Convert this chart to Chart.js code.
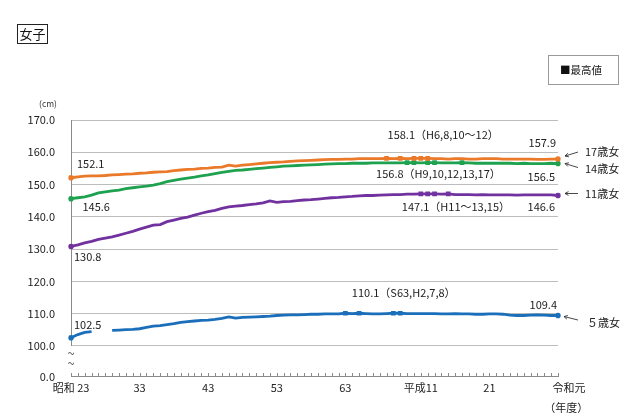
<!DOCTYPE html>
<html><head><meta charset="utf-8">
<script src="https://cdn.jsdelivr.net/npm/chart.js@4"></script>
<style>html,body{margin:0;padding:0;background:#fff;}canvas{display:block;}</style>
</head><body>
<canvas id="c" width="640" height="420" style="width:640px;height:420px"></canvas>
<script>
// ---- data ----
const years = [1948,1949,1950,1951,1952,1953,1954,1955,1956,1957,1958,1959,1960,1961,1962,1963,1964,1965,1966,1967,1968,1969,
1970,1971,1972,1973,1974,1975,1976,1977,1978,1979,1980,1981,1982,1983,1984,1985,1986,1987,1988,1989,1990,1991,1992,1993,1994,1995,
1996,1997,1998,1999,2000,2001,2002,2003,2004,2005,2006,2007,2008,2009,2010,2011,2012,2013,2014,2015,2016,2017,2018,2019];
const tickYears = [1948,1958,1968,1978,1988,1999,2009,2019];
const tickTexts = ['昭和 23','33','43','53','63','平成11','21','令和元'];
const age17 = [152.1,152.4,152.6,152.7,152.7,152.8,153.0,153.1,153.2,153.3,153.5,153.6,153.8,153.9,154.0,154.3,154.5,154.7,154.8,155.0,155.1,155.3,
155.4,156.0,155.7,156.0,156.2,156.4,156.6,156.8,156.9,157.0,157.2,157.3,157.4,157.5,157.6,157.7,157.8,157.8,157.9,157.9,158.0,158.0,158.0,158.0,158.1,158.0,
158.1,158.0,158.1,158.1,158.1,158.0,158.0,157.9,158.0,158.0,157.9,157.9,158.0,158.0,158.0,157.9,157.9,157.9,157.9,157.9,157.8,157.8,157.9,157.9];
const age14 = [145.6,145.9,146.2,146.7,147.4,147.7,148.0,148.3,148.7,149.0,149.3,149.5,149.8,150.3,150.9,151.3,151.7,152.0,152.3,152.7,153.0,153.4,
153.8,154.1,154.4,154.5,154.7,154.9,155.1,155.3,155.5,155.7,155.8,155.9,156.0,156.1,156.2,156.3,156.4,156.5,156.5,156.6,156.6,156.6,156.7,156.7,156.7,156.7,
156.7,156.8,156.8,156.7,156.8,156.8,156.7,156.7,156.7,156.8,156.7,156.6,156.6,156.6,156.6,156.6,156.6,156.5,156.6,156.5,156.5,156.5,156.6,156.5];
const age11 = [130.8,131.3,131.9,132.4,133.0,133.4,133.8,134.3,134.9,135.5,136.2,136.8,137.4,137.6,138.5,139.0,139.5,139.9,140.5,141.1,141.6,142.0,
142.6,143.1,143.3,143.5,143.8,144.0,144.3,144.9,144.5,144.7,144.8,145.0,145.2,145.3,145.5,145.7,145.9,146.0,146.2,146.3,146.5,146.6,146.6,146.7,146.8,146.9,
146.9,147.0,147.0,147.1,147.1,147.1,147.0,147.1,146.9,146.9,146.9,146.8,146.9,146.8,146.8,146.8,146.8,146.7,146.8,146.8,146.8,146.8,146.8,146.6];
const age5 = [102.5,103.5,104.2,104.4,null,null,104.8,104.9,105.0,105.1,105.3,105.7,106.1,106.3,106.6,106.9,107.3,107.5,107.7,107.9,108.0,108.2,
108.5,109.0,108.6,108.8,108.9,109.0,109.1,109.2,109.4,109.5,109.6,109.6,109.7,109.8,109.8,109.9,109.9,109.9,110.1,110.0,110.1,110.0,109.9,109.9,110.0,110.1,
110.1,110.0,110.0,110.0,110.0,110.0,109.9,109.9,110.0,109.9,109.9,109.8,109.8,109.9,109.9,109.8,109.5,109.4,109.4,109.5,109.6,109.5,109.4,109.4];
const max17 = [1994,1996,1998,1999,2000];
const max14 = [1997,1998,2000,2001,2005];
const max11 = [1999,2000,2001,2003];
const max5 = [1988,1990,1995,1996];
const yTicks = [100,110,120,130,140,150,160,170];
const yBase = 90.5; // broken-axis bottom, labelled 0.0

const FONT = "'Noto Sans CJK JP','Noto Sans',sans-serif";
const colors = ['#EA7A2A','#1FA24F','#7132A0','#1B6FBA'];

function mkDs(label, data, color, maxYears){
  return {
    label, data, borderColor: color, backgroundColor: color, borderWidth: 2.8,
    tension: 0, spanGaps: false,
    pointRadius: c => { const y = years[c.dataIndex];
      if (c.dataIndex === 0 || c.dataIndex === years.length-1) return 2.8;
      return maxYears.includes(y) ? 3.3 : 0; },
    pointStyle: c => maxYears.includes(years[c.dataIndex]) ? 'rect' : 'circle',
    pointBorderWidth: 0, pointHoverRadius: 0
  };
}

function txt(ctx, s, x, y, align, size, color){
  ctx.font = (size||11) + 'px ' + FONT;
  ctx.fillStyle = color || '#222';
  ctx.textAlign = align || 'left';
  ctx.textBaseline = 'middle';
  ctx.fillText(s, x, y);
}
function arrow(ctx, tx, ty, fx, fy){
  ctx.strokeStyle = '#333'; ctx.lineWidth = 0.9;
  ctx.beginPath(); ctx.moveTo(fx, fy); ctx.lineTo(tx, ty); ctx.stroke();
  const a = Math.atan2(fy-ty, fx-tx);
  ctx.beginPath();
  ctx.moveTo(tx + 4*Math.cos(a+0.5), ty + 4*Math.sin(a+0.5));
  ctx.lineTo(tx, ty);
  ctx.lineTo(tx + 4*Math.cos(a-0.5), ty + 4*Math.sin(a-0.5));
  ctx.stroke();
}

const deco = {
  id: 'deco',
  beforeDatasetsDraw(chart){
    const ctx = chart.ctx, xs = chart.scales.x, ys = chart.scales.y, ca = chart.chartArea;
    ctx.save();
    ctx.strokeStyle = '#8a8a8a'; ctx.lineWidth = 1;
    const xl = Math.round(ca.left) + 0.5;
    ctx.beginPath(); ctx.moveTo(xl, ys.getPixelForValue(170)); ctx.lineTo(xl, ys.getPixelForValue(100)); ctx.stroke();
    // tick marks on x axis (inward)
    const yb = Math.round(ca.bottom) - 0.5;
    ctx.beginPath();
    years.forEach((y,i) => { const x = Math.round(xs.getPixelForValue(i)) + 0.5; ctx.moveTo(x, yb); ctx.lineTo(x, yb-3.5); });
    ctx.stroke();
    // break marks
    const y100 = ys.getPixelForValue(100);
    txt(ctx, '~', ca.left, y100+7, 'center', 13, '#666');
    txt(ctx, '~', ca.left, y100+17, 'center', 13, '#666');
    ctx.restore();
  },
  afterDatasetsDraw(chart){
    const ctx = chart.ctx;
    const pt = (d, yr) => chart.getDatasetMeta(d).data[years.indexOf(yr)];
    const last = years[years.length-1], first = years[0];
    ctx.save();
    let p;
    p = pt(0, first); txt(ctx, '152.1', p.x+6, p.y-14);
    p = pt(1, first); txt(ctx, '145.6', p.x+11.5, p.y+8.5);
    p = pt(2, first); txt(ctx, '130.8', p.x+3, p.y+10);
    p = pt(3, first); txt(ctx, '102.5', p.x+3, p.y-13);
    p = pt(0, max17[0]); txt(ctx, '158.1（H6,8,10～12）', p.x+1, p.y-23.5);
    p = pt(1, max14[0]); txt(ctx, '156.8（H9,10,12,13,17）', p.x-31, p.y+11.7);
    p = pt(2, max11[0]); txt(ctx, '147.1（H11～13,15）', p.x-19, p.y+13.4);
    p = pt(3, max5[0]); txt(ctx, '110.1（S63,H2,7,8）', p.x+6.5, p.y-20);
    p = pt(0, last); txt(ctx, '157.9', p.x-2, p.y-16, 'right');
    arrow(ctx, p.x+7, p.y-3, p.x+20, p.y-7); txt(ctx, '17歳女', p.x+27, p.y-7);
    p = pt(1, last); txt(ctx, '156.5', p.x-3, p.y+12.8, 'right');
    arrow(ctx, p.x+7, p.y, p.x+20, p.y+4); txt(ctx, '14歳女', p.x+27, p.y+5.5);
    p = pt(2, last); txt(ctx, '146.6', p.x-3, p.y+11.5, 'right');
    arrow(ctx, p.x+7, p.y-2, p.x+20, p.y-2); txt(ctx, '11歳女', p.x+27, p.y-2);
    p = pt(3, last); txt(ctx, '109.4', p.x-1, p.y-10.5, 'right');
    arrow(ctx, p.x+6, p.y+1, p.x+20, p.y+4.5); txt(ctx, '５歳女', p.x+29, p.y+7);
    // title box
    ctx.strokeStyle = '#222'; ctx.lineWidth = 1;
    ctx.strokeRect(17.5, 24.5, 30, 19);
    txt(ctx, '女子', 32.5, 34, 'center', 13, '#111');
    // legend box
    ctx.strokeStyle = '#9a9a9a';
    ctx.strokeRect(548.5, 55.5, 70, 29);
    txt(ctx, '■最高値', 560, 70.5, 'left', 10.5, '#111');
    // unit
    txt(ctx, '(cm)', 48, 104, 'center', 8.5, '#333');
    ctx.restore();
  }
};

new Chart(document.getElementById('c'), {
  type: 'line',
  data: {
    labels: years,
    datasets: [
      mkDs('17歳女', age17, colors[0], max17),
      mkDs('14歳女', age14, colors[1], max14),
      mkDs('11歳女', age11, colors[2], max11),
      mkDs('5歳女', age5, colors[3], max5)
    ]
  },
  options: {
    responsive: false, animation: false, devicePixelRatio: 1,
    layout: { padding: { left: 0, right: 82, top: 120, bottom: 0 } },
    plugins: { legend: { display: false }, tooltip: { enabled: false } },
    scales: {
      x: {
        type: 'category', offset: false,
        grid: { display: false, drawTicks: false },
        border: { display: true, color: '#8a8a8a', width: 1 },
        ticks: {
          autoSkip: false, maxRotation: 0, minRotation: 0, padding: 2,
          color: '#222', font: { family: FONT, size: 11, lineHeight: 1.75 },
          callback: (v, i) => {
            const k = tickYears.indexOf(years[i]);
            if (k < 0) return '';
            if (i === years.length-1) return ['\u3000\u3000' + tickTexts[k], '\u3000\u3000（年度）'];
            return tickTexts[k];
          }
        },
        afterFit: s => { s.height = 43.5; }
      },
      y: {
        min: yBase, max: 170,
        afterBuildTicks: s => { s.ticks = [yBase, ...yTicks].map(v => ({ value: v })); },
        grid: { drawTicks: false, color: c => (c.tick && c.tick.value === yBase) ? 'rgba(0,0,0,0)' : '#bdbdbd', lineWidth: 1 },
        border: { display: false },
        ticks: {
          padding: 16, color: '#222', font: { family: FONT, size: 11 },
          callback: v => v === yBase ? '0.0' : Number(v).toFixed(1)
        },
        afterFit: s => { s.width = 71; }
      }
    }
  },
  plugins: [deco]
});
</script>
</body></html>
